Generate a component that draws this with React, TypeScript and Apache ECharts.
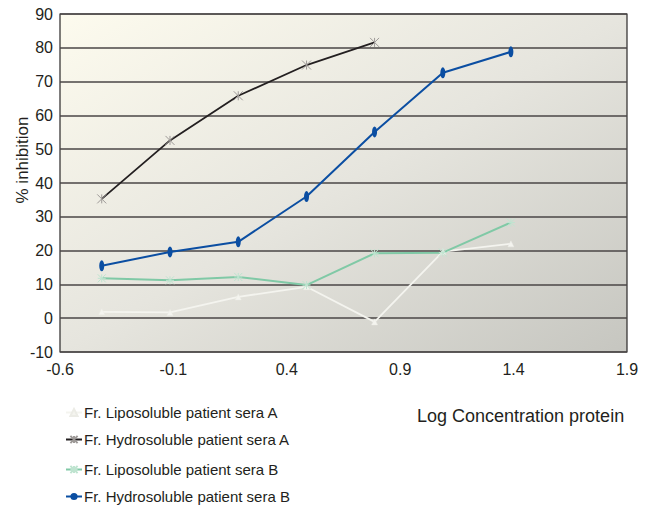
import React, { useEffect, useRef } from "react";
import * as echarts from "echarts";

const xValues = [-0.416, -0.115, 0.186, 0.487, 0.787, 1.088, 1.388];
const lipoA = [1.9, 1.7, 6.3, 9.3, -1.1, 19.7, 22.0];
const hydroA = [35.3, 52.6, 65.8, 74.9, 81.6];
const lipoB = [11.8, 11.2, 12.2, 9.8, 19.2, 19.4, 28.3];
const hydroB = [15.5, 19.6, 22.6, 36.0, 55.1, 72.6, 78.8];
const seriesNames = [
  "Fr. Liposoluble patient sera A",
  "Fr. Hydrosoluble patient sera A",
  "Fr. Liposoluble patient sera B",
  "Fr. Hydrosoluble patient sera B",
];
const legendRows = [413, 440, 470, 497];

const pair = (ys: number[]) => ys.map((y, i) => [xValues[i], y]);

const FONT = "Liberation Sans, Arial, sans-serif";

export default function App() {
  const ref = useRef<HTMLDivElement>(null);
  useEffect(() => {
    if (!ref.current) return;
    const chart = echarts.init(ref.current, undefined, { renderer: "svg" });
    const xSym = "path://M0,0 L10,10 M10,0 L0,10 M5,0 L5,10";
    const starSym = "path://M0,0 L10,10 M10,0 L0,10 M5,0 L5,10 M0,5 L10,5";
    const triSym = "path://M5,0 L10,10 L0,10 Z";
    const ellSym = "path://M5,0 A5,10 0 1,1 5,20 A5,10 0 1,1 5,0 Z";
    chart.setOption({
      animation: false,
      backgroundColor: "#ffffff",
      textStyle: { fontFamily: FONT },
      grid: {
        left: 60,
        top: 14,
        right: 23,
        bottom: 155,
        show: true,
        borderColor: "#2b2828",
        borderWidth: 1.2,
        backgroundColor: {
          type: "linear",
          x: 0,
          y: 0,
          x2: 1,
          y2: 1,
          colorStops: [
            { offset: 0, color: "#fdfbee" },
            { offset: 0.5, color: "#e6e5de" },
            { offset: 1, color: "#c6c6c0" },
          ],
        },
      },
      xAxis: {
        type: "value",
        min: -0.6,
        max: 1.9,
        interval: 0.5,
        axisLine: { show: false },
        axisTick: { show: false },
        splitLine: { show: false },
        axisLabel: {
          color: "#231f20",
          fontSize: 16,
          fontFamily: FONT,
          margin: 9,
          formatter: (v: number) => v.toFixed(1),
        },
      },
      yAxis: {
        type: "value",
        min: -10,
        max: 90,
        interval: 10,
        axisLine: { show: false },
        axisTick: { show: false },
        splitLine: { show: true, lineStyle: { color: "#4a4646", width: 1.5 } },
        axisLabel: { color: "#231f20", fontSize: 16, fontFamily: FONT, margin: 7 },
      },
      legend: seriesNames.map((n, i) => ({
        orient: "vertical",
        left: 65,
        top: legendRows[i] - 8,
        padding: 0,
        itemWidth: 16,
        itemHeight: 9,
        textStyle: { color: "#231f20", fontSize: 15, fontFamily: FONT, padding: [0, 0, 0, -3] },
        data: [n],
      })),
      graphic: [
        {
          type: "text",
          x: 22,
          y: 160,
          rotation: Math.PI / 2,
          style: {
            text: "% inhibition",
            fill: "#231f20",
            font: `17px ${FONT}`,
            align: "center",
            verticalAlign: "middle",
          },
        },
        {
          type: "text",
          x: 417,
          y: 416,
          style: {
            text: "Log Concentration protein",
            fill: "#231f20",
            font: `18px ${FONT}`,
            align: "left",
            verticalAlign: "middle",
          },
        },
      ],
      series: [
        {
          name: seriesNames[0],
          type: "line",
          data: pair(lipoA),
          symbol: triSym,
          symbolSize: 6,
          lineStyle: { color: "#f4f4ef", width: 1.8 },
          itemStyle: { color: "#f4f4ef", borderColor: "#ecece6", borderWidth: 0.5 },
        },
        {
          name: seriesNames[1],
          type: "line",
          data: pair(hydroA),
          symbol: xSym,
          symbolSize: 9,
          lineStyle: { color: "#231f20", width: 1.8 },
          itemStyle: { color: "none", borderColor: "#9e9a98", borderWidth: 1 },
        },
        {
          name: seriesNames[2],
          type: "line",
          data: pair(lipoB),
          symbol: starSym,
          symbolSize: 8,
          lineStyle: { color: "#80c9a6", width: 2 },
          itemStyle: { color: "none", borderColor: "#bfe4d0", borderWidth: 1 },
        },
        {
          name: seriesNames[3],
          type: "line",
          data: pair(hydroB),
          symbol: ellSym,
          symbolSize: [5, 11],
          lineStyle: { color: "#0b4ea2", width: 2 },
          itemStyle: { color: "#0b4ea2" },
        },
      ],
    });
    return () => chart.dispose();
  }, []);
  return (
    <div
      ref={ref}
      style={{ position: "fixed", left: 0, top: 0, width: 650, height: 507 }}
    />
  );
}
